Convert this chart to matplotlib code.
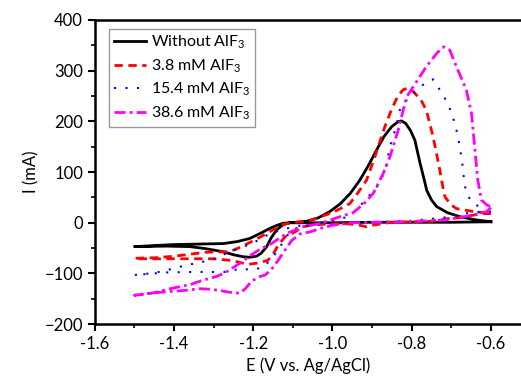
"""Cyclic voltammograms with and without AlF3."""
import matplotlib
matplotlib.use("Agg")
import matplotlib.pyplot as plt
from matplotlib.ticker import MultipleLocator

plt.rcParams['font.family'] = ['Lato', 'DejaVu Sans']
plt.rcParams['mathtext.default'] = 'regular'

# potential (V) and current (mA), cathodic sweep then anodic sweep
v_without = [-0.6, -0.7, -0.8, -0.9, -1.0, -1.05, -1.108, -1.125, -1.141, -1.155,
             -1.166, -1.18, -1.192, -1.21, -1.225, -1.25, -1.277, -1.32, -1.36, -1.42,
             -1.5, -1.45, -1.402, -1.34, -1.276, -1.24, -1.209, -1.18, -1.158, -1.14,
             -1.125, -1.095, -1.065, -1.035, -1.007, -0.981, -0.955, -0.931, -0.91,
             -0.889, -0.87, -0.85, -0.835, -0.826, -0.815, -0.803, -0.792, -0.779,
             -0.77, -0.762, -0.75, -0.737, -0.71, -0.678, -0.64, -0.6]
i_without = [2, 1, 1, 1, 0, 0, 0, -4, -14, -30,
             -47, -60, -66, -68, -67, -63, -57, -51, -47, -46,
             -47, -45, -43, -42, -41, -37, -31, -20, -11, -5,
             -1, 1, 3, 10, 22, 37, 58, 84, 112,
             143, 170, 190, 199, 201, 196, 182, 163, 118,
             90, 64, 45, 32, 20, 12, 6, 2]

v_38 = [-0.6, -0.62, -0.645, -0.68, -0.712, -0.75, -0.8, -0.86, -0.9, -0.914,
        -0.93, -0.96, -1.0, -1.05, -1.075, -1.095, -1.12, -1.137, -1.15, -1.163,
        -1.185, -1.213, -1.24, -1.26, -1.3, -1.36, -1.42, -1.495,
        -1.5, -1.45, -1.4, -1.36, -1.318, -1.26, -1.238, -1.196, -1.15, -1.13,
        -1.11, -1.09, -1.06, -1.03, -1.0, -0.98, -0.956, -0.935, -0.914, -0.893,
        -0.868, -0.85, -0.835, -0.822, -0.813, -0.8, -0.788, -0.775, -0.763,
        -0.746, -0.729, -0.72, -0.716, -0.7, -0.687, -0.65, -0.62, -0.6]
i_38 = [18, 18, 15, 10, 8, 3, 2, 0, -5, -8,
        -5, -2, -2, -4, -8, -18, -28, -44, -62, -74,
        -79, -82, -77, -74, -71, -71, -71, -71,
        -70, -69, -66, -62, -58, -57, -50, -34, -14, -4,
        -1, 1, 3, 12, 20, 28, 38, 60, 84, 130,
        189, 225, 250, 262, 265, 262, 252, 240, 222,
        170, 104, 65, 51, 35, 28, 23, 20, 18]

v_154 = [-0.6, -0.62, -0.67, -0.72, -0.8, -0.9, -1.0, -1.05, -1.08, -1.103,
         -1.12, -1.137, -1.158, -1.175, -1.204, -1.234, -1.263, -1.29, -1.35, -1.42,
         -1.5, -1.45, -1.4, -1.368, -1.343, -1.293, -1.268, -1.234, -1.204, -1.179,
         -1.158, -1.129, -1.1, -1.07, -1.04, -1.0, -0.97, -0.948, -0.925, -0.902,
         -0.881, -0.865, -0.855, -0.838, -0.83, -0.81, -0.792, -0.767, -0.746,
         -0.729, -0.708, -0.691, -0.683, -0.674, -0.67, -0.668, -0.662, -0.645,
         -0.611, -0.6]
i_154 = [22, 22, 18, 10, 4, 1, -1, -4, -8, -14,
         -31, -54, -74, -88, -93, -90, -97, -97, -97, -98,
         -103, -99, -90, -83, -80, -70, -60, -50, -41, -31,
         -21, -14, -8, -4, -1, 3, 10, 19, 38, 58,
         78, 110, 150, 193, 222, 245, 258, 275, 283,
         262, 235, 196, 170, 127, 104, 84, 58, 38,
         25, 22]

v_386 = [-0.6, -0.611, -0.645, -0.72, -0.83, -0.95, -1.0, -1.03, -1.057, -1.082,
         -1.103, -1.12, -1.137, -1.154, -1.17, -1.183, -1.204, -1.22, -1.234, -1.26,
         -1.288, -1.31, -1.335, -1.368, -1.4, -1.45, -1.49,
         -1.5, -1.45, -1.41, -1.385, -1.36, -1.326, -1.293, -1.268, -1.234, -1.21,
         -1.183, -1.154, -1.116, -1.074, -1.03, -0.981, -0.948, -0.92, -0.897,
         -0.872, -0.855, -0.834, -0.813, -0.788, -0.763, -0.737, -0.72, -0.704,
         -0.687, -0.662, -0.649, -0.641, -0.633, -0.624, -0.61, -0.601]
i_386 = [30, 22, 15, 5, 2, 0, -5, -11, -18, -22,
         -35, -54, -74, -92, -103, -106, -115, -130, -139, -137,
         -133, -131, -130, -133, -135, -138, -142,
         -143, -138, -130, -126, -122, -113, -106, -97, -80, -66,
         -52, -41, -21, -8, -1, 12, 20, 38, 58,
         97, 130, 183, 248, 278, 308, 334, 347, 341,
         308, 262, 216, 150, 84, 45, 35, 32]

labels = ['Without AlF$_3$', '3.8 mM AlF$_3$', '15.4 mM AlF$_3$', '38.6 mM AlF$_3$']

fig = plt.figure(figsize=(5.21, 3.92), dpi=100)
ax = fig.add_axes([0.182, 0.173, 0.818, 0.776])

ax.plot(v_without, i_without, color='black', lw=2, label=labels[0])
ax.plot(v_38, i_38, color='red', lw=2, linestyle=(0, (3, 2)), label=labels[1])
ax.plot(v_154, i_154, color='blue', lw=1.5, linestyle=(0, (1, 4.5)), label=labels[2])
ax.plot(v_386, i_386, color='magenta', lw=2,
        linestyle=(0, (4, 1.5, 1, 1.5)), label=labels[3])

ax.set_xlim(-1.6, -0.524)
ax.set_ylim(-200, 400)
ax.xaxis.set_minor_locator(MultipleLocator(0.1))
ax.yaxis.set_major_locator(MultipleLocator(100))
ax.yaxis.set_minor_locator(MultipleLocator(50))
ax.set_xticks([-1.6, -1.4, -1.2, -1.0, -0.8, -0.6])
ax.set_xticklabels(['-1.6', '-1.4', '-1.2', '-1.0', '-0.8', '-0.6'])
ax.tick_params(which='major', length=5, width=1.5, labelsize=12)
ax.tick_params(which='minor', length=3, width=1.2)
for side in ['left', 'bottom', 'top']:
    ax.spines[side].set_linewidth(1.8)
ax.spines['right'].set_visible(False)

ax.set_xlabel('E (V vs. Ag/AgCl)', fontsize=12)
ax.set_ylabel('I (mA)', fontsize=12)

leg = ax.legend(loc='upper left', bbox_to_anchor=(0.033, 0.97), fontsize=11.5,
                fancybox=False, edgecolor='gray', handlelength=2.0,
                handletextpad=0.35, borderpad=0.3, labelspacing=0.38,
                borderaxespad=0)
leg.get_frame().set_linewidth(1)

fig.savefig('out.png', dpi=100)
